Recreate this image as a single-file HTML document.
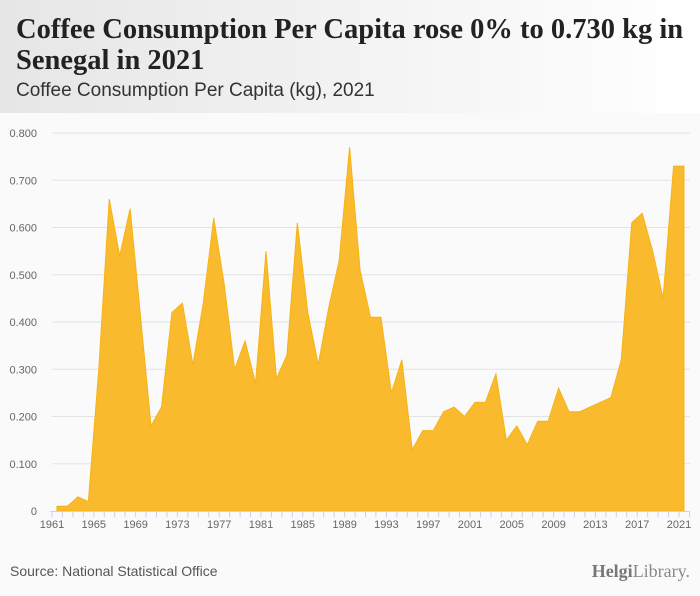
<!DOCTYPE html>
<html><head><meta charset="utf-8"><style>
body{margin:0;width:700px;height:596px;background:#fafafa;font-family:"Liberation Sans",sans-serif;overflow:hidden;position:relative}
#hdr{position:absolute;left:0;top:0;width:700px;height:113px;background:linear-gradient(90deg,#e6e6e6,#ffffff)}
#title{position:absolute;left:16px;top:14px;font-family:"Liberation Serif",serif;font-weight:bold;font-size:28.5px;line-height:31px;color:#222;width:684px}
#sub{position:absolute;left:16px;top:80px;font-size:19px;color:#333}
#src{position:absolute;left:10px;top:563px;font-size:14px;color:#555}
#logo{position:absolute;right:10px;top:561px;font-family:"Liberation Serif",serif;font-size:18px;color:#888}
</style></head><body>
<div id="hdr"></div>
<div id="title">Coffee Consumption Per Capita rose 0% to 0.730 kg in Senegal in 2021</div>
<div id="sub">Coffee Consumption Per Capita (kg), 2021</div>
<svg id="chart" width="700" height="596" style="position:absolute;left:0;top:0"></svg>
<div id="src">Source: National Statistical Office</div>
<div id="logo"><b style="color:#777">Helgi</b>Library.</div>
<script>
const years=[1961,1962,1963,1964,1965,1966,1967,1968,1969,1970,1971,1972,1973,1974,1975,1976,1977,1978,1979,1980,1981,1982,1983,1984,1985,1986,1987,1988,1989,1990,1991,1992,1993,1994,1995,1996,1997,1998,1999,2000,2001,2002,2003,2004,2005,2006,2007,2008,2009,2010,2011,2012,2013,2014,2015,2016,2017,2018,2019,2020,2021];
const values=[0.01,0.01,0.03,0.02,0.30,0.66,0.54,0.64,0.41,0.18,0.22,0.42,0.44,0.31,0.44,0.62,0.48,0.30,0.36,0.27,0.55,0.28,0.33,0.61,0.42,0.31,0.43,0.53,0.77,0.51,0.41,0.41,0.25,0.32,0.13,0.17,0.17,0.21,0.22,0.20,0.23,0.23,0.29,0.15,0.18,0.14,0.19,0.19,0.26,0.21,0.21,0.22,0.23,0.24,0.32,0.61,0.63,0.55,0.45,0.73,0.73];
const yTicks=[0,0.1,0.2,0.3,0.4,0.5,0.6,0.7,0.8];
const yTickLabels=["0","0.100","0.200","0.300","0.400","0.500","0.600","0.700","0.800"];
const xLabelYears=[1961,1965,1969,1973,1977,1981,1985,1989,1993,1997,2001,2005,2009,2013,2017,2021];
const NS="http://www.w3.org/2000/svg",svg=document.getElementById('chart');
const x=v=>57+(v-1961)*(684-57)/60;
const y=v=>511-v*(511-133)/0.8;
function mk(t,a){const e=document.createElementNS(NS,t);for(const k in a)e.setAttribute(k,a[k]);svg.appendChild(e);return e;}
yTicks.forEach((t,i)=>{
 if(t>0){const g=mk('line',{x1:52,x2:690,y1:y(t),y2:y(t),stroke:'#e3e3e3'});
 
 }
 const l=mk('text',{x:37,y:y(t)+4,'text-anchor':'end','font-size':11,fill:'#666','font-family':'Liberation Sans, sans-serif'});
 l.textContent=yTickLabels[i];
 
 
});
let d='M'+x(years[0])+','+y(0);
years.forEach((yr,i)=>{d+=' L'+x(yr)+','+y(values[i]);});
d+=' L'+x(years[years.length-1])+','+y(0)+' Z';
const area=mk('path',{d:d,fill:'#f9bb2d',stroke:'#f7b216','stroke-width':1});


const ax=mk('line',{x1:50,x2:690,y1:511.5,y2:511.5,stroke:'#c8d3e6'});


years.forEach(yr=>{
 const t=mk('line',{x1:x(yr)-5,x2:x(yr)-5,y1:512,y2:517,stroke:'#c8d3e6'});
 
 
});
mk('line',{x1:689.5,x2:689.5,y1:512,y2:517,stroke:'#c8d3e6'});
xLabelYears.forEach(yr=>{
 const l=mk('text',{x:x(yr)-5,y:528,'text-anchor':'middle','font-size':11,fill:'#666','font-family':'Liberation Sans, sans-serif'});
 l.textContent=yr;
 
 
});
</script>
</body></html>
